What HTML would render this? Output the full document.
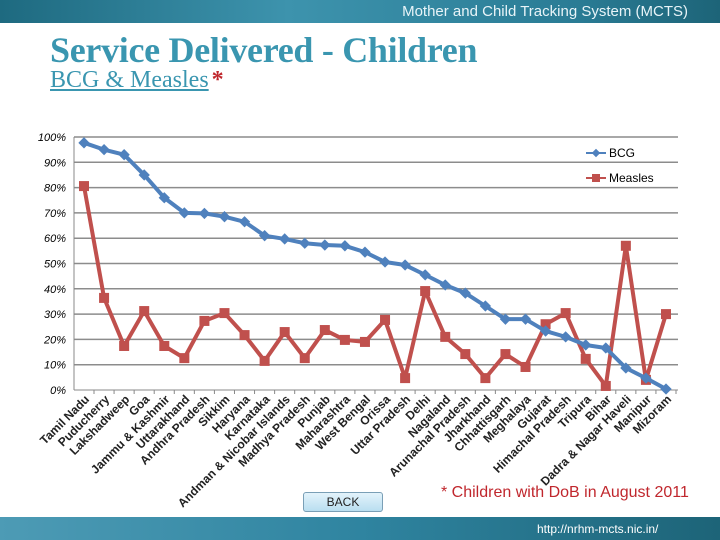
<!DOCTYPE html>
<html><head><meta charset="utf-8"><style>
body{margin:0;width:720px;height:540px;overflow:hidden;background:#fff;font-family:"Liberation Sans",sans-serif;position:relative}
.hdr{position:absolute;left:0;top:0;width:720px;height:23px;background:linear-gradient(90deg,#1e6a80,#3d93ad 40%,#2a7c95 80%,#1d6478)}
.hdr span{position:absolute;right:32px;top:3px;color:#e8f4f8;font-size:15px}
.ftr{position:absolute;left:0;top:517px;width:720px;height:23px;background:linear-gradient(90deg,#4d9bb5,#2f84a0 50%,#1d6478)}
.ftr span{position:absolute;left:537px;top:5px;color:#fff;font-size:12px}
h1{position:absolute;left:50px;top:29px;margin:0;font-family:"Liberation Serif",serif;font-size:36px;color:#3a96b0;font-weight:bold;letter-spacing:-0.3px}
h2{position:absolute;left:50px;top:67px;margin:0;font-family:"Liberation Serif",serif;font-size:24px;color:#3a96b0;font-weight:normal;text-decoration:underline}
h2 b{color:#c0272d;text-decoration:none;display:inline-block;margin-left:3px}
.back{position:absolute;left:303px;top:492px;width:78px;height:18px;border:1px solid #7a9fb6;border-radius:3px;background:linear-gradient(#e3f3fb,#b9def0);font-size:12px;text-align:center;line-height:18px;color:#222}
.note{position:absolute;left:441px;top:484px;color:#c0272d;font-size:16px;font-family:"Liberation Sans",sans-serif}
</style></head><body>
<div class="hdr"><span>Mother and Child Tracking System (MCTS)</span></div>
<h1>Service Delivered - Children</h1>
<h2>BCG &amp; Measles<b>*</b></h2>
<svg id="chart" width="720" height="540" style="position:absolute;left:0;top:0"></svg>
<div class="back">BACK</div>
<div class="note">* Children with DoB in August 2011</div>
<div class="ftr"><span>http://nrhm-mcts.nic.in/</span></div>
<script>
const categories=["Tamil Nadu","Puducherry","Lakshadweep","Goa","Jammu & Kashmir","Uttarakhand","Andhra Pradesh","Sikkim","Haryana","Karnataka","Andman & Nicobar Islands","Madhya Pradesh","Punjab","Maharashtra","West Bengal","Orissa","Uttar Pradesh","Delhi","Nagaland","Arunachal Pradesh","Jharkhand","Chhattisgarh","Meghalaya","Gujarat","Himachal Pradesh","Tripura","Bihar","Dadra & Nagar Haveli","Manipur","Mizoram"];
const bcg=[97.7,95,93,85,76,70,69.8,68.5,66.5,61,59.7,58,57.3,57,54.5,50.6,49.4,45.5,41.5,38.3,33.2,28,28,23.3,21,17.8,16.6,8.7,4.7,0.4];
const measles=[80.6,36.4,17.4,31.2,17.4,12.6,27.3,30.4,21.7,11.5,22.9,12.6,23.7,19.8,19,27.7,4.7,39.1,21,14.2,4.7,14.2,9.1,26,30.4,12.3,1.6,57,4,30];
const yTicks=[0,10,20,30,40,50,60,70,80,90,100];
const NS="http://www.w3.org/2000/svg";
const svg=document.getElementById('chart');
const x0=74,x1=678,y0=390,y1=137;
const xs=i=>84+i*(666-84)/(categories.length-1);
const ys=v=>y0-(v/100)*(y0-y1);
function mk(t,a){const e=document.createElementNS(NS,t);for(const k in a)e.setAttribute(k,a[k]);svg.appendChild(e);return e;}
yTicks.forEach(t=>{
  const l=mk('line',{x1:x0,x2:x1,y1:ys(t),y2:ys(t),stroke:t===0?'#888':'#8c8c8c','stroke-width':t===0?1:1.5});
  
  
  const tx=mk('text',{x:x0-8,y:ys(t)+4,'text-anchor':'end','font-size':11,'font-style':'italic','font-family':'Liberation Sans, sans-serif',fill:'#000'});
  tx.textContent=t+'%';
  
  
});
const ax=mk('line',{x1:x0,x2:x0,y1:y1,y2:y0,stroke:'#888'});


categories.forEach((c,i)=>{
  const tk=mk('line',{x1:xs(i)+10,x2:xs(i)+10,y1:y0,y2:y0+4,stroke:'#888'});
  
  
  const x=xs(i)+6,y=y0+10;
  const t=mk('text',{x:x,y:y,'text-anchor':'end','font-size':12,'font-weight':'bold','font-family':'Liberation Sans, sans-serif',fill:'#222',transform:`rotate(-45 ${x} ${y})`});
  t.textContent=c;
  
  
});
function series(vals,color,name,marker){
  const p=mk('polyline',{points:vals.map((v,i)=>xs(i)+','+ys(v)).join(' '),fill:'none',stroke:color,'stroke-width':4,'stroke-linejoin':'round'});
  
  
  vals.forEach((v,i)=>{
    let m;
    if(marker==='d')m=mk('rect',{x:xs(i)-4,y:ys(v)-4,width:8,height:8,fill:color,transform:`rotate(45 ${xs(i)} ${ys(v)})`});
    else m=mk('rect',{x:xs(i)-5,y:ys(v)-5,width:10,height:10,fill:color});
    
    
  });
}
series(measles,'#c0504d','measles','s');
series(bcg,'#4f81bd','bcg','d');
function leg(y,color,label,marker){
  const l=mk('line',{x1:586,x2:606,y1:y,y2:y,stroke:color,'stroke-width':2});
  
  
  const m=marker==='d'?mk('rect',{x:593,y:y-3,width:6,height:6,fill:color,transform:`rotate(45 596 ${y})`}):mk('rect',{x:592,y:y-4,width:8,height:8,fill:color});
  
  
  const t=mk('text',{x:609,y:y+4,'font-size':12,'font-family':'Liberation Sans, sans-serif',fill:'#000'});
  t.textContent=label;
  
  
}
leg(153,'#4f81bd','BCG','d');
leg(178,'#c0504d','Measles','s');
</script>
</body></html>
